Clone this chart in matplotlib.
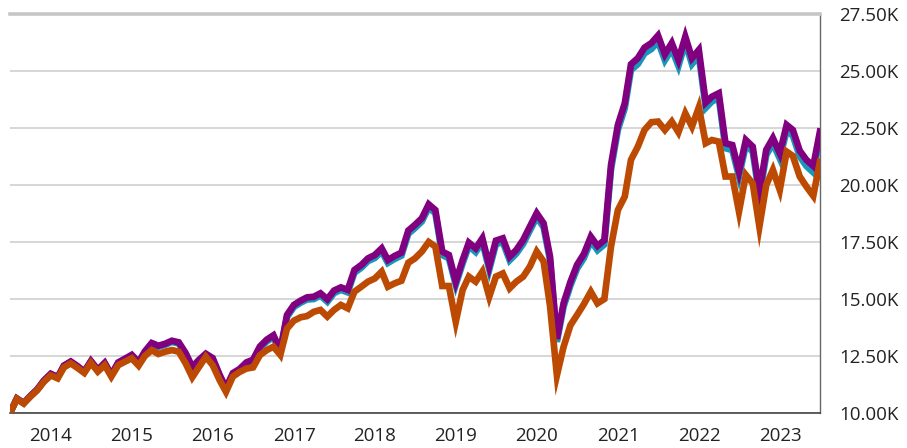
import matplotlib
matplotlib.use('Agg')
import matplotlib.pyplot as plt
import matplotlib.dates as mdates
import matplotlib.ticker as mticker
import pandas as pd

plt.rcParams['font.family'] = ['Open Sans', 'DejaVu Sans']

# Monthly growth of 10K, Jun 2013 - Jun 2023
dates = pd.date_range('2013-06-30', '2023-06-30', freq='ME')

orange = [10000, 10620, 10420, 10720, 11000, 11370, 11650, 11520, 12000, 12180,
          11980, 11760, 12200, 11820, 12100, 11600, 12100, 12250, 12400, 12080,
          12500, 12760, 12590, 12690, 12760, 12690, 12180, 11570, 12030, 12470,
          12100, 11450, 10930, 11600, 11800, 11950, 12000, 12540, 12760, 12910,
          12550, 13700, 14050, 14200, 14250, 14440, 14520, 14230, 14520, 14740,
          14590, 15320, 15540, 15760, 15900, 16200, 15540, 15690, 15800, 16590,
          16780, 17080, 17500, 17300, 15570, 15570, 14000, 15400, 15980, 15760,
          16200, 15100, 15980, 16120, 15470, 15760, 15980, 16420, 17080, 16650,
          14700, 11650, 12900, 13850, 14300, 14780, 15320, 14810, 15000, 17300,
          18900, 19490, 21100, 21680, 22410, 22750, 22780, 22410, 22780, 22310,
          23140, 22560, 23400, 21830, 21970, 21900, 20370, 20370, 18830, 20440,
          20070, 18170, 20000, 20660, 19780, 21460, 21270, 20370, 19930, 19520,
          21020]

purple = [10000, 10640, 10440, 10750, 11040, 11430, 11720, 11580, 12080, 12260,
          12060, 11820, 12280, 11900, 12200, 11680, 12220, 12380, 12550, 12230,
          12700, 13070, 12950, 13040, 13170, 13100, 12630, 12020, 12340, 12600,
          12410, 11680, 11100, 11750, 11930, 12220, 12340, 12920, 13220, 13410,
          12750, 14300, 14740, 14930, 15070, 15100, 15250, 14990, 15370, 15510,
          15400, 16270, 16490, 16780, 16930, 17220, 16710, 16890, 17030, 18000,
          18250, 18540, 19150, 18900, 17080, 16930, 15760, 16710, 17470, 17220,
          17660, 16450, 17560, 17660, 16860, 17150, 17590, 18170, 18760, 18320,
          16860, 13250, 14810, 15750, 16500, 16980, 17730, 17330, 17580, 20880,
          22630, 23580, 25290, 25560, 26020, 26220, 26550, 25730, 26220, 25480,
          26500, 25560, 25920, 23610, 23870, 24020, 21830, 21750, 20590, 21970,
          21680, 19710, 21540, 22050, 21390, 22630, 22410, 21500, 21100, 20830,
          22340]

teal = [10000, 10630, 10430, 10740, 11030, 11410, 11700, 11560, 12060, 12240,
        12040, 11795, 12250, 11870, 12170, 11650, 12185, 12345, 12510, 12190,
        12660, 13030, 12905, 12995, 13120, 13050, 12580, 11970, 12290, 12545,
        12355, 11625, 11045, 11690, 11870, 12155, 12270, 12850, 13140, 13330,
        12680, 14210, 14650, 14840, 14975, 15000, 15150, 14880, 15260, 15400,
        15290, 16150, 16370, 16660, 16800, 17090, 16580, 16760, 16900, 17860,
        18110, 18400, 19010, 18760, 16930, 16780, 15620, 16560, 17320, 17060,
        17500, 16290, 17400, 17500, 16700, 16990, 17420, 18000, 18590, 18150,
        16700, 13120, 14660, 15590, 16330, 16800, 17550, 17140, 17390, 20680,
        22420, 23360, 25040, 25300, 25770, 25960, 26290, 25470, 25960, 25220,
        26240, 25300, 25660, 23380, 23660, 23810, 21610, 21530, 20370, 21750,
        21460, 19490, 21310, 21820, 21160, 22390, 22160, 21250, 20830, 20550,
        22080]

y_ticks = [10000, 12500, 15000, 17500, 20000, 22500, 25000, 27500]

fig = plt.figure(figsize=(9.07, 4.48), dpi=100)
ax = fig.add_axes([0.011, 0.078, 0.893, 0.891])

lw = 4.8
ax.plot(dates, teal, color='#1a96bb', lw=lw, solid_joinstyle='miter', zorder=3)
ax.plot(dates, purple, color='#800080', lw=lw, solid_joinstyle='miter', zorder=4)
ax.plot(dates, orange, color='#bd4a02', lw=lw, solid_joinstyle='miter', zorder=5)

ax.set_xlim(dates[0], dates[-1])
ax.set_ylim(10000, 27500)

# y axis on the right
ax.yaxis.tick_right()
ax.set_yticks(y_ticks)
ax.yaxis.set_major_formatter(mticker.FuncFormatter(lambda v, p: f'{v/1000:.2f}K'))
ax.tick_params(axis='y', length=0, pad=14, labelsize=13.5, labelcolor='#222222')

ax.xaxis.set_major_locator(mdates.YearLocator())
ax.xaxis.set_major_formatter(mdates.DateFormatter('%Y'))
ax.tick_params(axis='x', length=0, pad=10, labelsize=13.5, labelcolor='#222222')

ax.grid(axis='y', color='#d0d0d0', lw=1.2, zorder=0)
ax.grid(axis='x', visible=False)

ax.spines['left'].set_visible(False)
ax.spines['top'].set_color('#c6c6c6')
ax.spines['top'].set_linewidth(2.6)
ax.spines['right'].set_color('#666666')
ax.spines['right'].set_linewidth(1.0)
ax.spines['bottom'].set_color('#444444')
ax.spines['bottom'].set_linewidth(1.2)

fig.savefig('out.png', dpi=100)
